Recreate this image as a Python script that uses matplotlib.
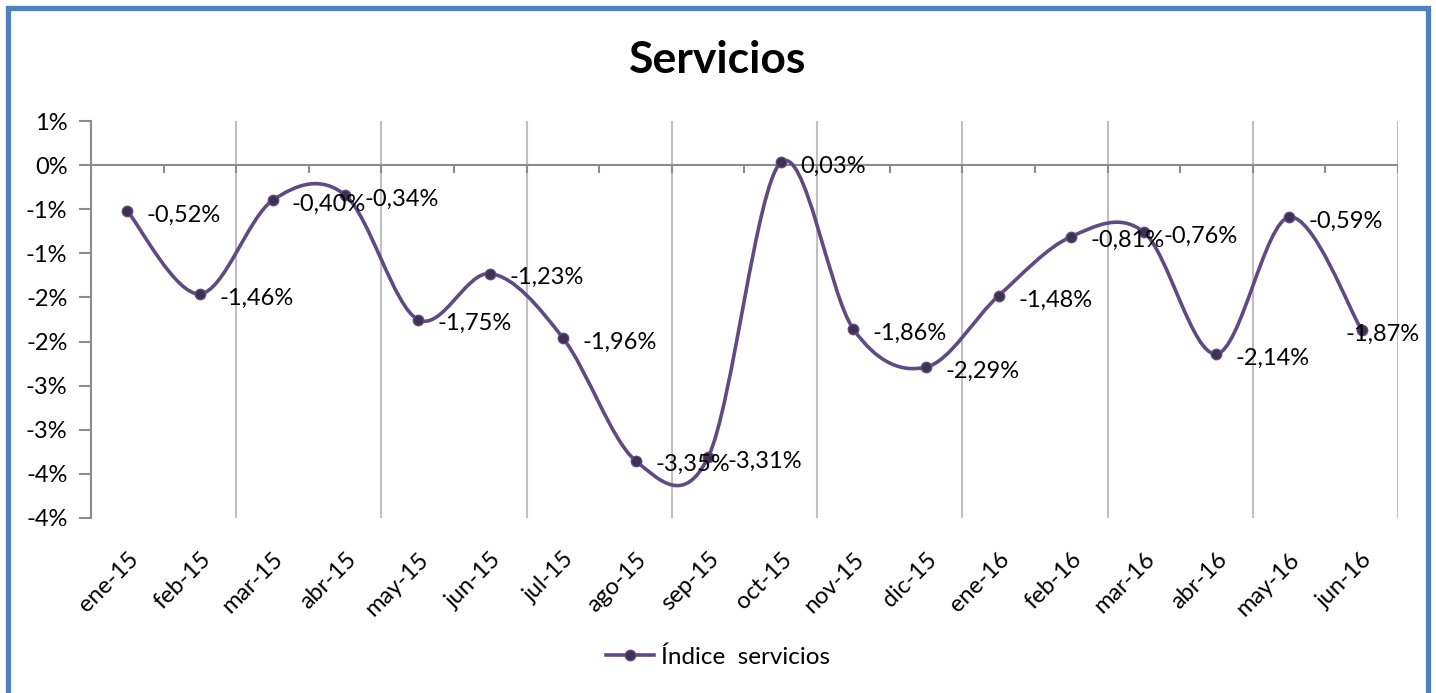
import numpy as np
import matplotlib
matplotlib.use('Agg')
import matplotlib.pyplot as plt
from matplotlib.path import Path
from matplotlib.patches import PathPatch, Rectangle
from matplotlib.lines import Line2D
from matplotlib.ticker import FuncFormatter, MultipleLocator

plt.rcParams['font.family'] = ['Lato', 'DejaVu Sans']

# ---------------------------- data ----------------------------
meses = ["ene-15", "feb-15", "mar-15", "abr-15", "may-15", "jun-15", "jul-15",
         "ago-15", "sep-15", "oct-15", "nov-15", "dic-15", "ene-16", "feb-16",
         "mar-16", "abr-16", "may-16", "jun-16"]
indice = [-0.52, -1.46, -0.40, -0.34, -1.75, -1.23, -1.96, -3.35, -3.31,
          0.03, -1.86, -2.29, -1.48, -0.81, -0.76, -2.14, -0.59, -1.87]
serie_nombre = "Índice  servicios"
titulo = "Servicios"

linea_col = '#5F4A84'
marca_col = '#3F3151'
grid_col = '#C0C0C0'
eje_col = '#8C8C8C'

fig = plt.figure(figsize=(14.36, 6.93), dpi=100)
ax = fig.add_axes([91/1436, 1-518/693, (1398-91)/1436, (518-121)/693])

n = len(meses)
x = np.arange(n)
y = np.array(indice)

# smoothed line like excel (catmull-rom -> bezier)
pts = np.column_stack([x, y]).astype(float)
verts = [tuple(pts[0])]
codes = [Path.MOVETO]
for i in range(n - 1):
    p0 = pts[i - 1] if i > 0 else pts[i]
    p1 = pts[i]
    p2 = pts[i + 1]
    p3 = pts[i + 2] if i + 2 < n else pts[i + 1]
    c1 = p1 + (p2 - p0) / 6.0
    c2 = p2 - (p3 - p1) / 6.0
    verts += [tuple(c1), tuple(c2), tuple(p2)]
    codes += [Path.CURVE4] * 3
ax.add_patch(PathPatch(Path(verts, codes), facecolor='none', edgecolor=linea_col,
                       linewidth=2.6, zorder=3, capstyle='round'))
ax.plot(x, y, linestyle='none', marker='o', markersize=7.5,
        markerfacecolor=marca_col, markeredgecolor=linea_col, markeredgewidth=1, zorder=4)

# data labels
for i, v in enumerate(indice):
    dx = 14
    if i == n - 1:
        dx = -12
    ax.annotate(("%.2f%%" % v).replace('.', ','), (x[i], v), xytext=(dx, -3),
                textcoords='offset points', ha='left', va='center', fontsize=17,
                color='black', zorder=5)

ax.set_xlim(-0.5, n - 0.5)
ax.set_ylim(-4.0, 0.5)

# vertical gridlines every 2 categories
for b in np.arange(-0.5, n, 2):
    ax.axvline(b, color=grid_col, linewidth=1.5, zorder=1)

# horizontal axis line at 0 with tick marks at category borders
ax.axhline(0, color=eje_col, linewidth=1.5, zorder=2)
ax.vlines(np.arange(n + 1) - 0.5, -0.09, 0, color=eje_col, linewidth=1.5, zorder=2)

ax.set_xticks(x)
ax.set_xticklabels(meses, rotation=45, ha='right', rotation_mode='anchor', fontsize=17)
ax.tick_params(axis='x', length=0, pad=22)

def excel_pct(v, pos):
    r = int(np.sign(v) * np.floor(abs(v) + 0.5 + 1e-9))
    return "%d%%" % r

ax.yaxis.set_major_locator(MultipleLocator(0.5))
ax.yaxis.set_major_formatter(FuncFormatter(excel_pct))
ax.tick_params(axis='y', length=9, width=1.5, color=eje_col, labelsize=17, pad=8)

for s in ['top', 'right', 'bottom']:
    ax.spines[s].set_visible(False)
ax.spines['left'].set_color(eje_col)
ax.spines['left'].set_linewidth(1.5)

fig.suptitle(titulo, fontsize=32, fontweight='bold', y=1-60/693, va='center')

# legend
h = Line2D([0], [0], color=linea_col, linewidth=2.6, marker='o', markersize=7.5,
           markerfacecolor=marca_col, markeredgecolor=linea_col)
fig.legend([h], [serie_nombre], loc='center', bbox_to_anchor=(0.5, 1-657/693),
           frameon=False, fontsize=17.5, handlelength=2.0, handletextpad=0.3)

# blue border (bottom edge falls outside the picture)
fig.patches.append(Rectangle((8/1436, -10/693), 1420/1436, 695/693,
                             transform=fig.transFigure, facecolor='none',
                             edgecolor='#4F81BD', linewidth=3.8))

fig.savefig('out.png', dpi=100)
